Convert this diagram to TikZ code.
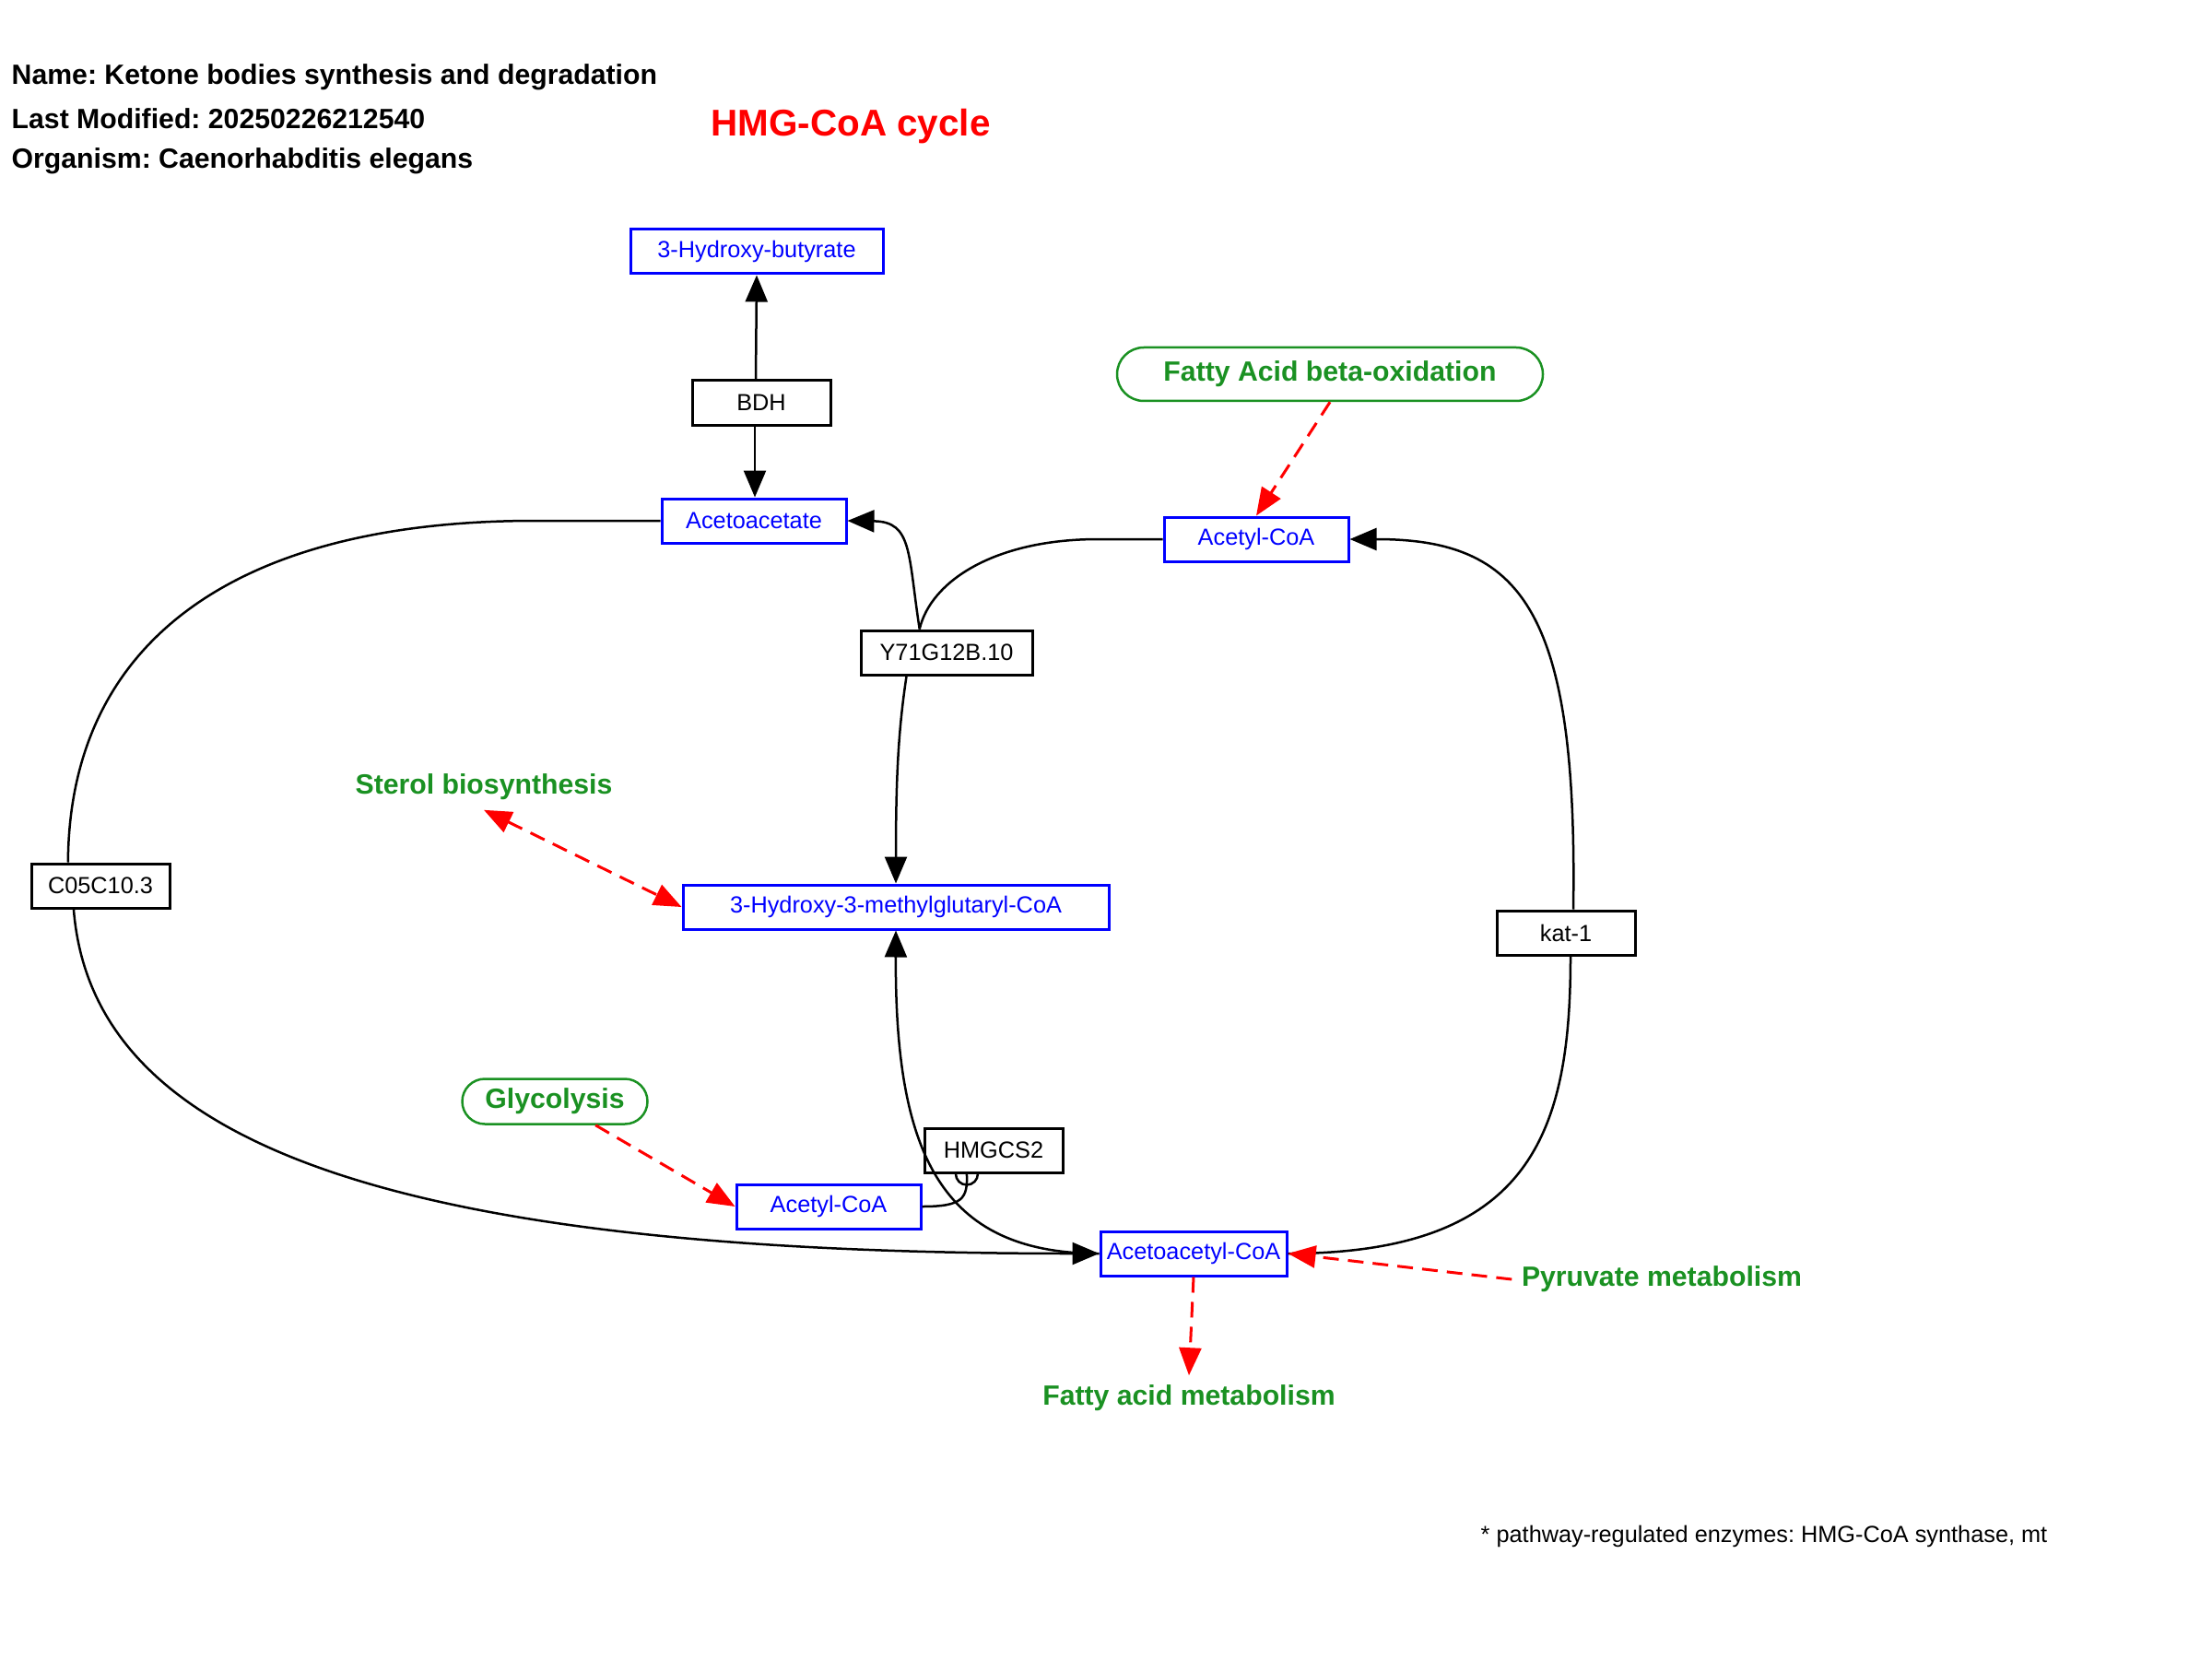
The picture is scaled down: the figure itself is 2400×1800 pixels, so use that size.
\documentclass[tikz,border=0pt]{standalone}
\usepackage{fontspec}
\setmainfont{Liberation Sans}
\frenchspacing
\usetikzlibrary{arrows.meta, calc, shapes.misc}
\definecolor{kgblue}{HTML}{0000FF}
\definecolor{kggreen}{HTML}{1A9122}
\definecolor{kgred}{HTML}{FF0000}
\newcommand{\boxfont}{\fontsize{7.2}{8.6}\selectfont}
\newcommand{\mapfont}{\fontsize{8.6}{10}\selectfont\bfseries}

\begin{document}
\begin{tikzpicture}[x=0.1mm, y=-0.1mm,
    gene/.style={draw=black, line width=0.3mm, minimum height=4.8mm, inner sep=0pt, font=\boxfont},
    cpd/.style={gene, draw=kgblue, text=kgblue},
    mapbox/.style={rounded rectangle, draw=kggreen, text=kggreen, line width=0.25mm,
                   minimum height=5.8mm, inner sep=0pt, font=\mapfont},
    maptext/.style={text=kggreen, font=\mapfont, inner sep=1mm},
    infotext/.style={anchor=west, font=\mapfont, inner sep=0pt},
    rx/.style={line width=0.25mm, -{Triangle[length=2.9mm, width=2.4mm]}},
    link/.style={kgred, line width=0.3mm, dash pattern=on 1.7mm off 1mm,
                 -{Triangle[length=3mm, width=2.4mm]}}]
  \useasboundingbox (0,0) rectangle (2400,1800);

  % header
  \node[infotext] (hname) at (12,84) {Name: Ketone bodies synthesis and degradation};
  \node[infotext] (hdate) at (12,129) {Last Modified: 20250226212540};
  \node[infotext] (horg) at (12,175) {Organism: Caenorhabditis elegans};
  \node[text=kgred, font=\fontsize{11.5}{13}\selectfont\bfseries] (cycle) at (923,137) {HMG-CoA cycle};

  % compounds
  \node[cpd, minimum width=27.4mm] (hbut) at (821,273) {3-Hydroxy-butyrate};
  \node[cpd, minimum width=20mm] (acac) at (818,565) {Acetoacetate};
  \node[cpd, minimum width=20mm] (accoaT) at (1363,585) {Acetyl-CoA};
  \node[cpd, minimum width=46.2mm] (hmgcoa) at (972,984) {3-Hydroxy-3-methylglutaryl-CoA};
  \node[cpd, minimum width=20mm] (accoaB) at (899,1309) {Acetyl-CoA};
  \node[cpd, minimum width=20.2mm] (acacoa) at (1295,1360) {Acetoacetyl-CoA};

  % enzymes
  \node[gene, minimum width=15mm] (bdh) at (826,437) {BDH};
  \node[gene, minimum width=18.6mm] (y71) at (1027,708) {Y71G12B.10};
  \node[gene, minimum width=15mm] (c05) at (109,961) {C05C10.3};
  \node[gene, minimum width=15mm] (kat1) at (1699,1012) {kat-1};
  \node[gene, minimum width=15mm] (hmgcs2) at (1078,1248) {HMGCS2};

  % linked maps
  \node[mapbox, minimum width=46.2mm] (fabo) at (1443,406) {Fatty Acid beta-oxidation};
  \node[mapbox, minimum width=20.1mm, minimum height=4.9mm] (glyc) at (602,1195) {Glycolysis};
  \node[maptext] (sterol) at (525,854) {Sterol biosynthesis};
  \node[maptext] (pyr) at (1803,1388) {Pyruvate metabolism};
  \node[maptext] (fam) at (1290,1517) {Fatty acid metabolism};

  \node[anchor=west, font=\boxfont, inner sep=0pt] (note) at (1606,1667)
    {* pathway-regulated enzymes: HMG-CoA synthase, mt};

  % points on the enzyme boxes
  \coordinate (bdht) at ($(bdh.north)+(-6,0)$);
  \coordinate (bdhb) at ($(bdh.south)+(-7,0)$);
  \coordinate (y71t) at ($(y71.north west)!0.345!(y71.north east)$);
  \coordinate (y71b) at ($(y71.south west)!0.27!(y71.south east)$);
  \coordinate (c05t) at ($(c05.north west)!0.27!(c05.north east)$);
  \coordinate (c05b) at ($(c05.south west)!0.31!(c05.south east)$);
  \coordinate (katt) at ($(kat1.north)+(8,0)$);
  \coordinate (katb) at ($(kat1.south)+(5,0)$);
  \coordinate (hk) at ($(hmgcs2.south west)!0.31!(hmgcs2.south east)$);

  % reactions
  \draw[rx] (bdht) -- (hbut.south);
  \draw[rx] (bdhb) -- (bdhb |- acac.north);
  \draw[line width=0.25mm] (accoaT.west) -- ++(-70,0) .. controls (1080,585) and (1010,630) .. (y71t);
  \draw[rx] (y71t) .. controls (985,600) and (990,566) .. (acac.east);
  \draw[rx] (y71b) .. controls (975,790) and (972,840) .. (hmgcoa.north);
  \draw[line width=0.25mm] (acac.west) -- ++(-136,0) .. controls (250,565) and (75,700) .. (c05t);
  \draw[rx] (c05b) .. controls (100,1240) and (420,1360) .. (acacoa.west);
  \draw[line width=0.25mm] (acacoa.east) .. controls (1660,1360) and (1704,1230) .. (katb);
  \draw[rx] (katt) .. controls (1712,660) and (1650,585) .. (accoaT.east);
  \draw[rx] (acacoa.west) .. controls (1020,1360) and (971,1250) .. (hmgcoa.south);
  \draw[line width=0.25mm] (accoaB.east) .. controls (1045,1309) and (1050,1300) .. (hk);
  \draw[line width=0.25mm] (hk) ++(-12,0) arc (180:0:12);

  % map links
  \draw[link] (fabo.south) -- (accoaT.north);
  \draw[link, {Triangle[length=3mm, width=2.4mm]}-{Triangle[length=3mm, width=2.4mm]}] (sterol.south) -- (hmgcoa.west);
  \draw[link] (glyc) -- (accoaB.west);
  \draw[link] (acacoa.south) -- (fam.north);
  \draw[link] (pyr.west) -- (acacoa.east);
\end{tikzpicture}
\end{document}
